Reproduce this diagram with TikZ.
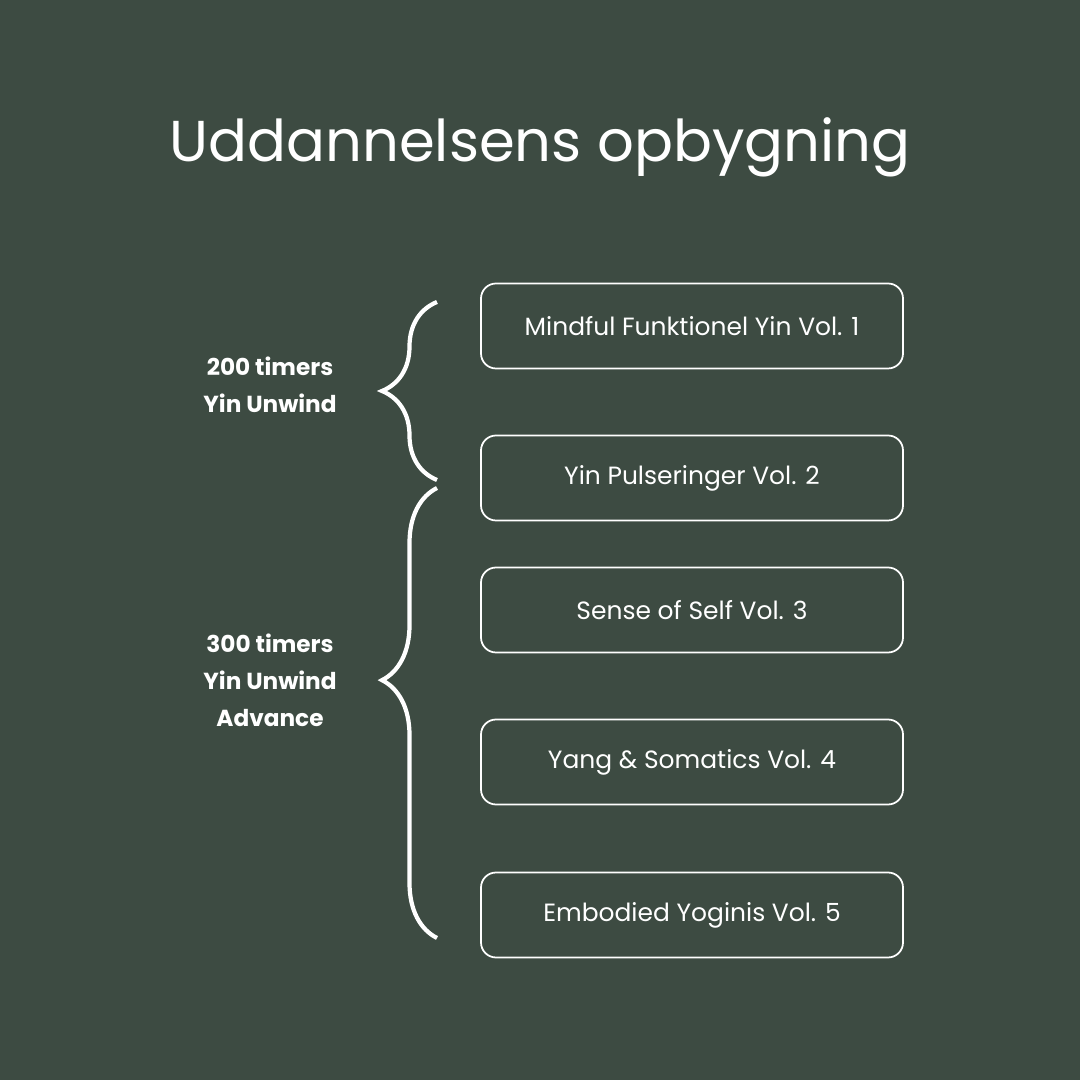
\documentclass[tikz,border=0pt]{standalone}
\usepackage{fontspec}
\setmainfont{Poppins}
\definecolor{DarkGreen}{RGB}{61, 75, 66}
\usetikzlibrary{positioning, decorations.pathreplacing}

\tikzset{
    volbox/.style={draw=white, line width=0.5pt, rounded corners=0.15cm, minimum width=4.22cm, minimum height=0.85cm, text=white, font=\fontsize{7.1}{8.5}\selectfont},
    grouplabel/.style={text=white, align=center, font=\bfseries\fontsize{6.6}{10.5}\selectfont},
    bracket/.style={draw=white, line width=1.2pt, decorate, decoration={brace, amplitude=0.55cm}}
}

\begin{document}
\begin{tikzpicture}
    \fill[DarkGreen] (0,0) rectangle (10.8,10.8);
    \useasboundingbox (0,0) rectangle (10.8,10.8);

    % title
    \node[text=white, font=\fontsize{16.4}{20}\selectfont] (title) at (5.4,9.33) {Uddannelsens opbygning};

    % volumes
    \node[volbox] (vol1) at (6.92,7.54) {Mindful Funktionel Yin Vol. 1};
    \node[volbox] (vol2) at (6.92,6.02) {Yin Pulseringer Vol. 2};
    \node[volbox] (vol3) at (6.92,4.70) {Sense of Self Vol. 3};
    \node[volbox] (vol4) at (6.92,3.18) {Yang \& Somatics Vol. 4};
    \node[volbox] (vol5) at (6.92,1.65) {Embodied Yoginis Vol. 5};

    % groups
    \node[grouplabel] (basic) at (2.70,6.95) {200 timers\\Yin Unwind};
    \node[grouplabel] (advanced) at (2.70,4.00) {300 timers\\Yin Unwind\\Advance};

    \coordinate (b1top) at (4.37,7.78);
    \coordinate (b1bot) at (4.37,6.00);
    \coordinate (b2top) at (4.37,5.92);
    \coordinate (b2bot) at (4.37,1.42);
    \draw[bracket] (b1bot) -- (b1top);
    \draw[bracket, decoration={aspect=0.573}] (b2bot) -- (b2top);
\end{tikzpicture}
\end{document}
